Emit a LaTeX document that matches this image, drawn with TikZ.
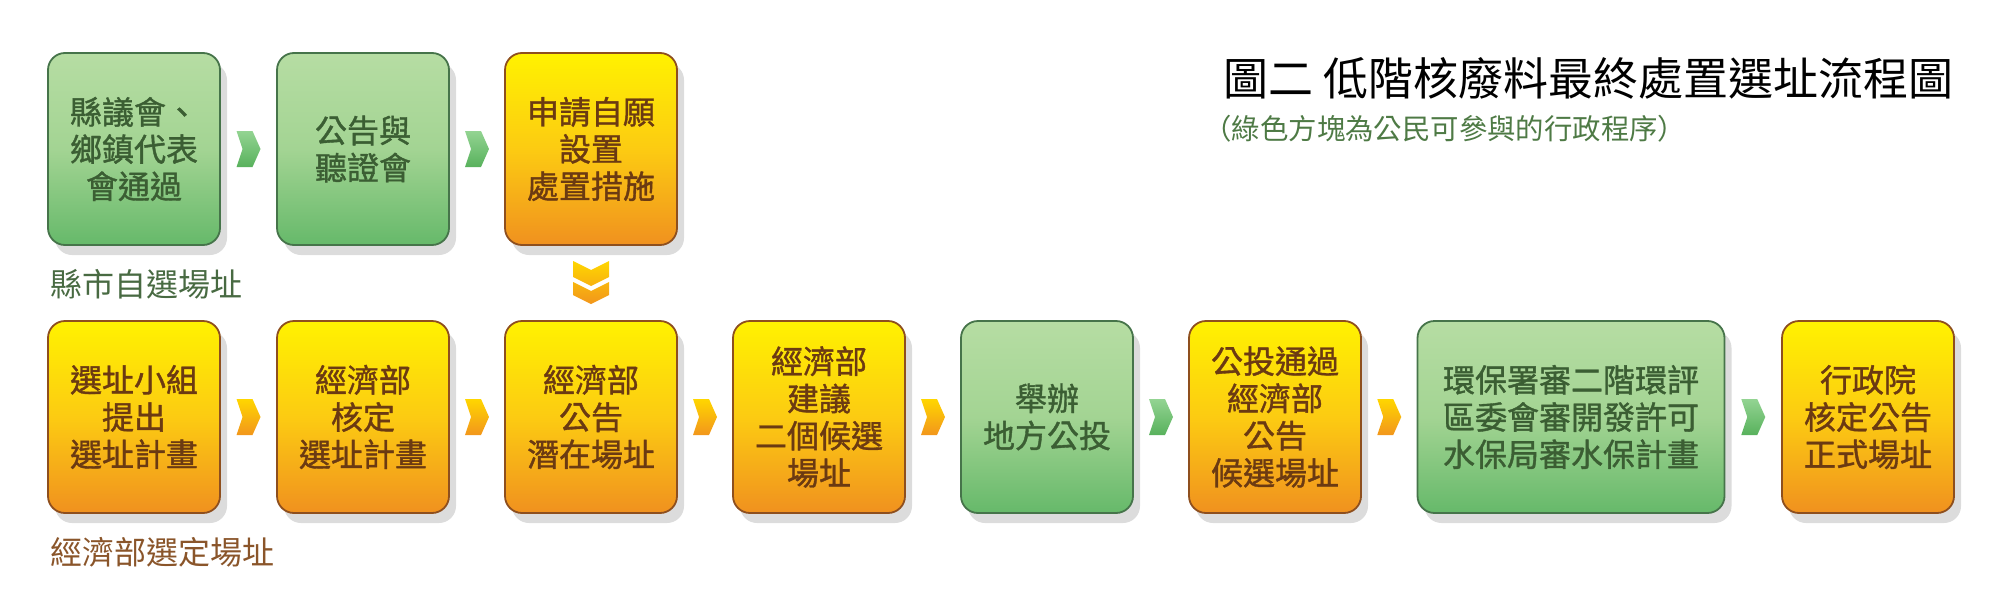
\documentclass[tikz,border=0pt]{standalone}
\usepackage{fontspec}
\setmainfont{Noto Sans CJK TC}
\newfontfamily\boxfont{Noto Sans CJK TC}[FakeBold=1.2]
\usetikzlibrary{calc,shadows}

\definecolor{grntop}{HTML}{B6DDA3}
\definecolor{grnmid}{HTML}{A3D493}
\definecolor{grnbot}{HTML}{66B96A}
\definecolor{grnline}{HTML}{46744A}
\definecolor{grntext}{HTML}{3B5E33}
\definecolor{orgtop}{HTML}{FFF200}
\definecolor{orgmid}{HTML}{FCCB12}
\definecolor{orgbot}{HTML}{F0911F}
\definecolor{orgline}{HTML}{8E4F1E}
\definecolor{orgtext}{HTML}{6B3A12}
\definecolor{chgtop}{HTML}{93D492}
\definecolor{chgbot}{HTML}{58B15C}
\definecolor{chotop}{HTML}{FFD600}
\definecolor{chobot}{HTML}{F2961C}
\definecolor{shadowgray}{HTML}{DCDCDC}
\definecolor{lblgreen}{HTML}{486A42}
\definecolor{lblbrown}{HTML}{8A552A}
\definecolor{subgreen}{HTML}{4E7A45}

\begin{document}
\begin{tikzpicture}[x=0.5pt,y=-0.5pt,line join=round,
  stepbox/.style={rounded corners=8.5pt,minimum width=86pt,minimum height=96pt,
    inner sep=0pt,align=center,line width=0.9pt,
    font=\boxfont\fontsize{16pt}{18.6pt}\selectfont,
    drop shadow={shadow xshift=3.5pt,shadow yshift=-5pt,fill=shadowgray,opacity=1}},
  grnbox/.style={stepbox,draw=grnline,top color=grntop,bottom color=grnbot,middle color=grnmid,text=grntext},
  orgbox/.style={stepbox,draw=orgline,top color=orgtop,bottom color=orgbot,middle color=orgmid,text=orgtext},
  chgrn/.style={top color=chgtop,bottom color=chgbot},
  chorg/.style={top color=chotop,bottom color=chobot},
  chev/.pic={\shade[#1] (-12,-18) -- (4,-18) -- (12,0) -- (4,18) -- (-12,18) -- (-6,0) -- cycle;},
  chevdown/.pic={\shade[chorg] (-18,-22) -- (0,-13) -- (18,-22) -- (18,-6) -- (0,3) -- (-18,-6) -- cycle
    (-18,-1) -- (0,8) -- (18,-1) -- (18,12) -- (0,21) -- (-18,12) -- cycle;}]
\path[use as bounding box] (0,0) rectangle (2000,605);

% title
\node[anchor=east,inner sep=0pt,font=\fontsize{22.5pt}{24pt}\selectfont] (title) at (1954,78) {圖二 低階核廢料最終處置選址流程圖};
\node[anchor=west,inner sep=0pt,text=subgreen,font=\fontsize{14.2pt}{15pt}\selectfont] (subtitle) at (1203,129) {（綠色方塊為公民可參與的行政程序）};

% row 1
\node[grnbox] (a1) at (134,149) {縣議會、\\鄉鎮代表\\會通過};
\node[grnbox] (a2) at (363,149) {公告與\\聽證會};
\node[orgbox] (a3) at (591,149) {申請自願\\設置\\處置措施};
\node[anchor=west,inner sep=0pt,text=lblgreen,font=\fontsize{16pt}{18pt}\selectfont] (countylbl) at (50,284) {縣市自選場址};

% row 2
\node[orgbox] (b1) at (134,417) {選址小組\\提出\\選址計畫};
\node[orgbox] (b2) at (363,417) {經濟部\\核定\\選址計畫};
\node[orgbox] (b3) at (591,417) {經濟部\\公告\\潛在場址};
\node[orgbox] (b4) at (819,417) {經濟部\\建議\\二個候選\\場址};
\node[grnbox] (b5) at (1047,417) {舉辦\\地方公投};
\node[orgbox] (b6) at (1275,417) {公投通過\\經濟部\\公告\\候選場址};
\node[grnbox,minimum width=153.5pt] (b7) at (1571,417) {環保署審二階環評\\區委會審開發許可\\水保局審水保計畫};
\node[orgbox] (b8) at (1868,417) {行政院\\核定公告\\正式場址};
\node[anchor=west,inner sep=0pt,text=lblbrown,font=\fontsize{16pt}{18pt}\selectfont] (moealbl) at (50,552) {經濟部選定場址};

% chevrons
\pic at ($(a1.east)!.5!(a2.west)$) {chev=chgrn};
\pic at ($(a2.east)!.5!(a3.west)$) {chev=chgrn};
\pic at ($(a3.south)!.5!(b3.north)$) {chevdown};
\pic at ($(b1.east)!.5!(b2.west)$) {chev=chorg};
\pic at ($(b2.east)!.5!(b3.west)$) {chev=chorg};
\pic at ($(b3.east)!.5!(b4.west)$) {chev=chorg};
\pic at ($(b4.east)!.5!(b5.west)$) {chev=chorg};
\pic at ($(b5.east)!.5!(b6.west)$) {chev=chgrn};
\pic at ($(b6.east)!.5!(b7.west)$) {chev=chorg};
\pic at ($(b7.east)!.5!(b8.west)$) {chev=chgrn};
\end{tikzpicture}
\end{document}
